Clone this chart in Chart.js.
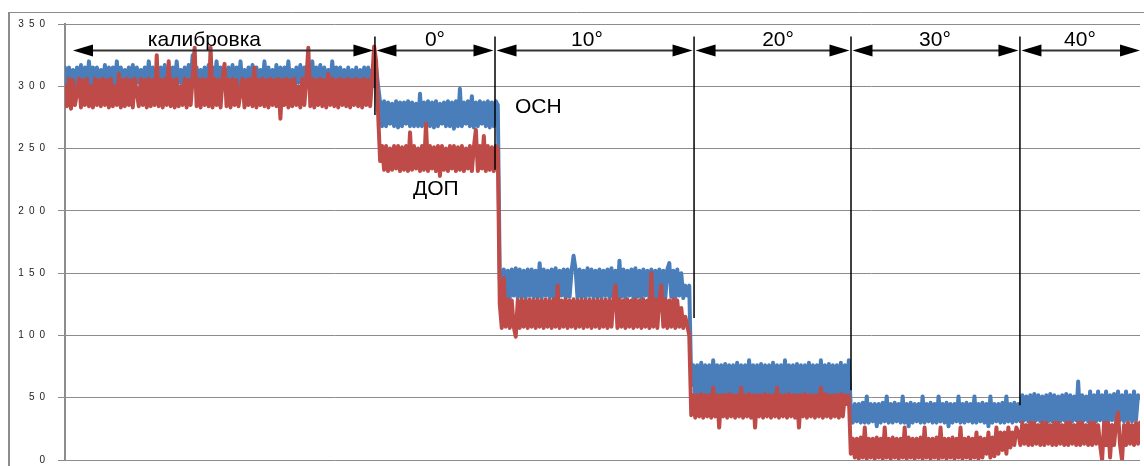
<!DOCTYPE html>
<html>
<head>
<meta charset="utf-8">
<script src="https://cdn.jsdelivr.net/npm/chart.js@4.4.0/dist/chart.umd.min.js"></script>
<style>
  html, body { margin: 0; padding: 0; background: #fff; overflow: hidden; }
  canvas { display: block; }
</style>
</head>
<body>
<canvas id="chart" width="1144" height="466"></canvas>
<script>
// readings per section (blue = ОСН, red = ДОП)
const calibBlue = [
  315,288,315,300,313,300,315,303,317,300,315,298,320,300,315,303,315,300,313,300,
  317,300,315,303,315,300,320,298,315,300,313,303,315,300,317,300,315,303,313,300,
  315,300,320,303,315,300,313,298,315,300,317,303,315,300,315,300,320,303,313,300,
  315,300,317,303,325,300,315,300,313,303,315,298,317,300,315,303,320,300,315,300,
  313,303,315,300,317,300,315,298,320,300,313,303,315,300,317,300,315,303,313,300,
  320,300,315,303,313,300,317,298,315,300,315,303,320,300,313,300,315,303,317,300,
  315,300,313,303,320,300,315,298,317,300,315,303,313,300,320,300,315,303,315,300,
  313,290,315,285,313,300,315,285,313,300,315,288,315,300,313,300,315,300];
const calibRed = [
  300,284,306,282,305,285,295,306,283,305,285,306,284,300,283,306,285,305,284,306,
  285,305,283,306,284,300,285,310,283,305,284,306,285,305,283,306,295,284,306,285,
  305,283,306,284,305,285,325,284,305,283,306,285,320,284,305,283,306,284,300,285,
  306,283,305,285,306,331,284,305,283,306,285,305,284,331,283,306,285,305,283,306,
  318,284,305,283,306,285,305,284,295,306,283,305,285,306,284,315,283,305,285,306,
  284,305,283,306,285,305,284,306,274,305,285,306,283,305,284,306,285,300,283,306,
  285,305,331,284,306,283,305,285,306,284,305,283,310,285,306,284,305,283,306,285,
  305,284,306,283,305,285,306,284,305,283,306,285,305,284,306,332,320,278];
const deg0Blue = [
  287,268,288,268,287,270,286,268,288,267,287,268,287,270,288,268,287,268,286,268,
  294,268,287,270,288,268,287,267,288,268,286,270,287,268,288,268,287,266,288,268,
  298,268,287,270,288,268,292,267,287,268,288,270,287,268,288,267,287,268,288,285];
const deg0Red = [
  240,252,233,252,232,250,233,252,234,252,232,251,233,252,232,263,233,252,234,250,
  232,252,233,270,232,252,234,251,232,252,228,252,233,250,232,252,234,252,232,251,
  233,252,232,250,234,252,232,251,265,232,252,234,260,232,252,233,251,232,252,250];
const deg10Blue = [
  145,130,153,131,152,130,153,132,154,130,153,131,152,130,153,132,153,130,152,131,
  158,130,153,132,152,130,153,131,154,130,152,132,153,130,153,131,152,164,153,130,
  153,131,152,130,154,132,153,130,152,131,153,130,152,132,153,130,154,131,152,130,
  160,131,153,130,152,132,153,130,154,131,152,130,153,132,152,130,153,131,152,130,
  153,131,152,130,153,158,131,152,130,153,132,150,130,140,132,140];
const deg10Red = [
  125,106,146,107,129,106,128,107,99,128,106,129,107,128,106,129,107,128,106,129,
  107,128,106,129,107,128,106,129,107,140,106,128,107,129,106,128,107,129,106,128,
  107,129,106,128,107,129,106,128,107,129,106,128,107,129,106,128,107,129,140,106,
  129,107,128,106,129,107,128,106,129,107,128,106,129,107,128,106,150,107,129,106,
  128,140,107,129,106,128,107,129,106,128,107,122,106,115,108,100];
const deg20Blue = [
  60,76,52,76,53,78,52,76,53,76,52,80,53,76,52,76,53,77,52,76,
  53,76,52,78,53,76,52,76,53,80,52,76,53,76,52,77,53,76,52,76,
  53,78,52,76,53,76,52,80,53,76,52,76,53,77,52,76,53,76,52,78,
  53,76,52,76,53,80,52,76,53,77,52,76,53,76,52,78,53,76,52,80];
const deg20Red = [
  36,52,34,52,35,53,34,52,35,52,34,58,35,52,26,52,35,52,34,53,
  35,52,34,52,35,58,34,52,35,53,34,52,26,52,35,52,34,53,35,52,
  34,52,35,58,34,52,35,52,34,53,35,52,34,52,26,52,35,53,34,52,
  35,52,34,52,35,58,34,53,35,52,34,52,35,52,34,53,35,52,45,52];
const deg30Blue = [
  40,30,45,31,45,30,46,30,51,30,45,31,45,27,45,30,46,31,51,30,
  45,30,46,31,45,30,51,30,45,27,46,30,45,31,45,30,51,30,45,31,
  46,30,45,30,51,31,45,30,46,27,45,30,45,31,51,30,45,30,46,31,
  45,30,51,30,45,31,46,30,45,27,51,30,45,31,45,30,46,30,51,31,
  45,30,46,31];
const deg30Red = [
  5,17,2,17,1,18,2,26,1,17,2,17,1,18,2,17,1,26,2,17,
  1,18,2,17,1,17,2,26,1,18,2,17,1,17,2,18,1,26,2,17,
  1,17,2,18,1,26,2,17,1,17,2,18,1,17,2,26,1,17,2,18,
  1,17,2,22,1,18,2,17,5,22,2,18,3,26,5,22,8,22,5,26,
  10,22,12,26];
const deg40Blue = [
  45,31,52,32,51,31,52,31,53,32,52,31,51,32,52,31,53,31,52,32,
  51,31,52,32,53,31,52,31,51,32,63,31,52,32,51,31,55,32,52,31,
  55,32,52,31,55,31,52,32,53,31,55,32,52,31,55,32,52,31,55,32,
  52,50];
const deg40Red = [
  22,12,30,13,28,12,30,12,30,13,28,12,30,12,30,13,28,12,30,12,
  30,13,28,12,30,12,30,13,28,12,30,12,30,13,28,12,30,12,30,13,
  28,12,0,30,12,30,2,28,12,30,38,12,0,28,12,30,13,28,12,30,
  13,30];

// section annotations (sample index / value units)
const sectionNames = ['калибровка', '0°', '10°', '20°', '30°', '40°'];
const arrowEnds = [4, 155.4, 215.6, 315.4, 394.1, 478.8, 539];
const nameCenters = [69.9, 185.5, 261.7, 357.5, 436.2, 508.9];
const dividerBottoms = [277, 233, 114, 56, 44];
const yTicks = [0, 50, 100, 150, 200, 250, 300, 350];

const blue = [].concat(calibBlue, deg0Blue, deg10Blue, deg20Blue, deg30Blue, deg40Blue);
const red = [].concat(calibRed, deg0Red, deg10Red, deg20Red, deg30Red, deg40Red);
const toPoints = arr => arr.map((v, i) => ({ x: i, y: v }));

const FONT = '"Liberation Sans", Arial, sans-serif';

function arrowHead(c, tipX, yy, dir) {
  c.beginPath();
  c.moveTo(tipX, yy);
  c.lineTo(tipX + dir * 20, yy - 6);
  c.lineTo(tipX + dir * 20, yy + 6);
  c.closePath();
  c.fill();
}

const annotate = {
  id: 'annotate',
  beforeDraw(chart) {
    const c = chart.ctx;
    c.save();
    c.fillStyle = '#fff';
    c.fillRect(0, 0, chart.width, chart.height);
    // outer frame
    c.strokeStyle = '#8c8c8c';
    c.lineWidth = 1;
    c.beginPath(); c.moveTo(9, 12.5); c.lineTo(chart.width, 12.5); c.stroke();
    c.lineWidth = 2;
    c.beginPath(); c.moveTo(9, 12); c.lineTo(9, chart.height); c.stroke();
    c.restore();
  },
  afterDatasetsDraw(chart) {
    const c = chart.ctx;
    const x = chart.scales.x, y = chart.scales.y;
    const ay = Math.round(y.getPixelForValue(329)) + 0.5;
    const top = y.getPixelForValue(340);
    c.save();
    c.strokeStyle = '#000';
    c.fillStyle = '#000';
    // divider lines
    c.lineWidth = 1.5;
    for (let k = 1; k < arrowEnds.length - 1; k++) {
      const px = x.getPixelForValue(arrowEnds[k]);
      c.beginPath();
      c.moveTo(px, top);
      c.lineTo(px, y.getPixelForValue(dividerBottoms[k - 1]));
      c.stroke();
    }
    // double arrows
    c.strokeStyle = '#333';
    for (let k = 0; k < arrowEnds.length - 1; k++) {
      const x1 = x.getPixelForValue(arrowEnds[k]) + (k === 0 ? 0 : 1.5);
      const x2 = x.getPixelForValue(arrowEnds[k + 1]) - (k === arrowEnds.length - 2 ? 0 : 1.5);
      c.lineWidth = 2;
      c.beginPath(); c.moveTo(x1 + 5, ay); c.lineTo(x2 - 5, ay); c.stroke();
      arrowHead(c, x1, ay, 1);
      arrowHead(c, x2, ay, -1);
    }
    // section names
    c.font = '21px ' + FONT;
    c.textAlign = 'center';
    c.textBaseline = 'alphabetic';
    const ly = y.getPixelForValue(332);
    sectionNames.forEach((t, k) => c.fillText(t, x.getPixelForValue(nameCenters[k]), ly));
    // series names
    c.textAlign = 'left';
    c.fillText('ОСН', x.getPixelForValue(225.6), y.getPixelForValue(278.5));
    c.fillText('ДОП', x.getPixelForValue(174.5), y.getPixelForValue(212.7));
    c.restore();
  }
};

new Chart(document.getElementById('chart'), {
  type: 'line',
  data: {
    datasets: [
      { label: 'ДОП', data: toPoints(red), borderColor: '#be4b48', order: 0 },
      { label: 'ОСН', data: toPoints(blue), borderColor: '#4a7ebb', order: 1 }
    ]
  },
  options: {
    responsive: false,
    animation: false,
    devicePixelRatio: 1,
    layout: { padding: { left: 0, top: 24, right: 4, bottom: 6 } },
    elements: {
      line: { borderWidth: 4, tension: 0, borderJoinStyle: 'round', borderCapStyle: 'round' },
      point: { radius: 0 }
    },
    plugins: { legend: { display: false }, tooltip: { enabled: false } },
    scales: {
      x: { type: 'linear', min: 0, max: blue.length - 1, display: false },
      y: {
        min: 0, max: 350,
        afterFit(scale) {
          scale.width = 65;
          scale.paddingTop = 0;
          scale.paddingBottom = 0;
        },
        afterBuildTicks(scale) { scale.ticks = yTicks.map(v => ({ value: v })); },
        grid: { color: '#8c8c8c', lineWidth: 1, tickLength: 7 },
        border: { color: '#8c8c8c', width: 2 },
        ticks: {
          padding: 13,
          color: '#222',
          font: { family: FONT, size: 10 },
          callback: v => String(v).split('').join('\u2002')
        }
      }
    }
  },
  plugins: [annotate]
});
</script>
</body>
</html>
